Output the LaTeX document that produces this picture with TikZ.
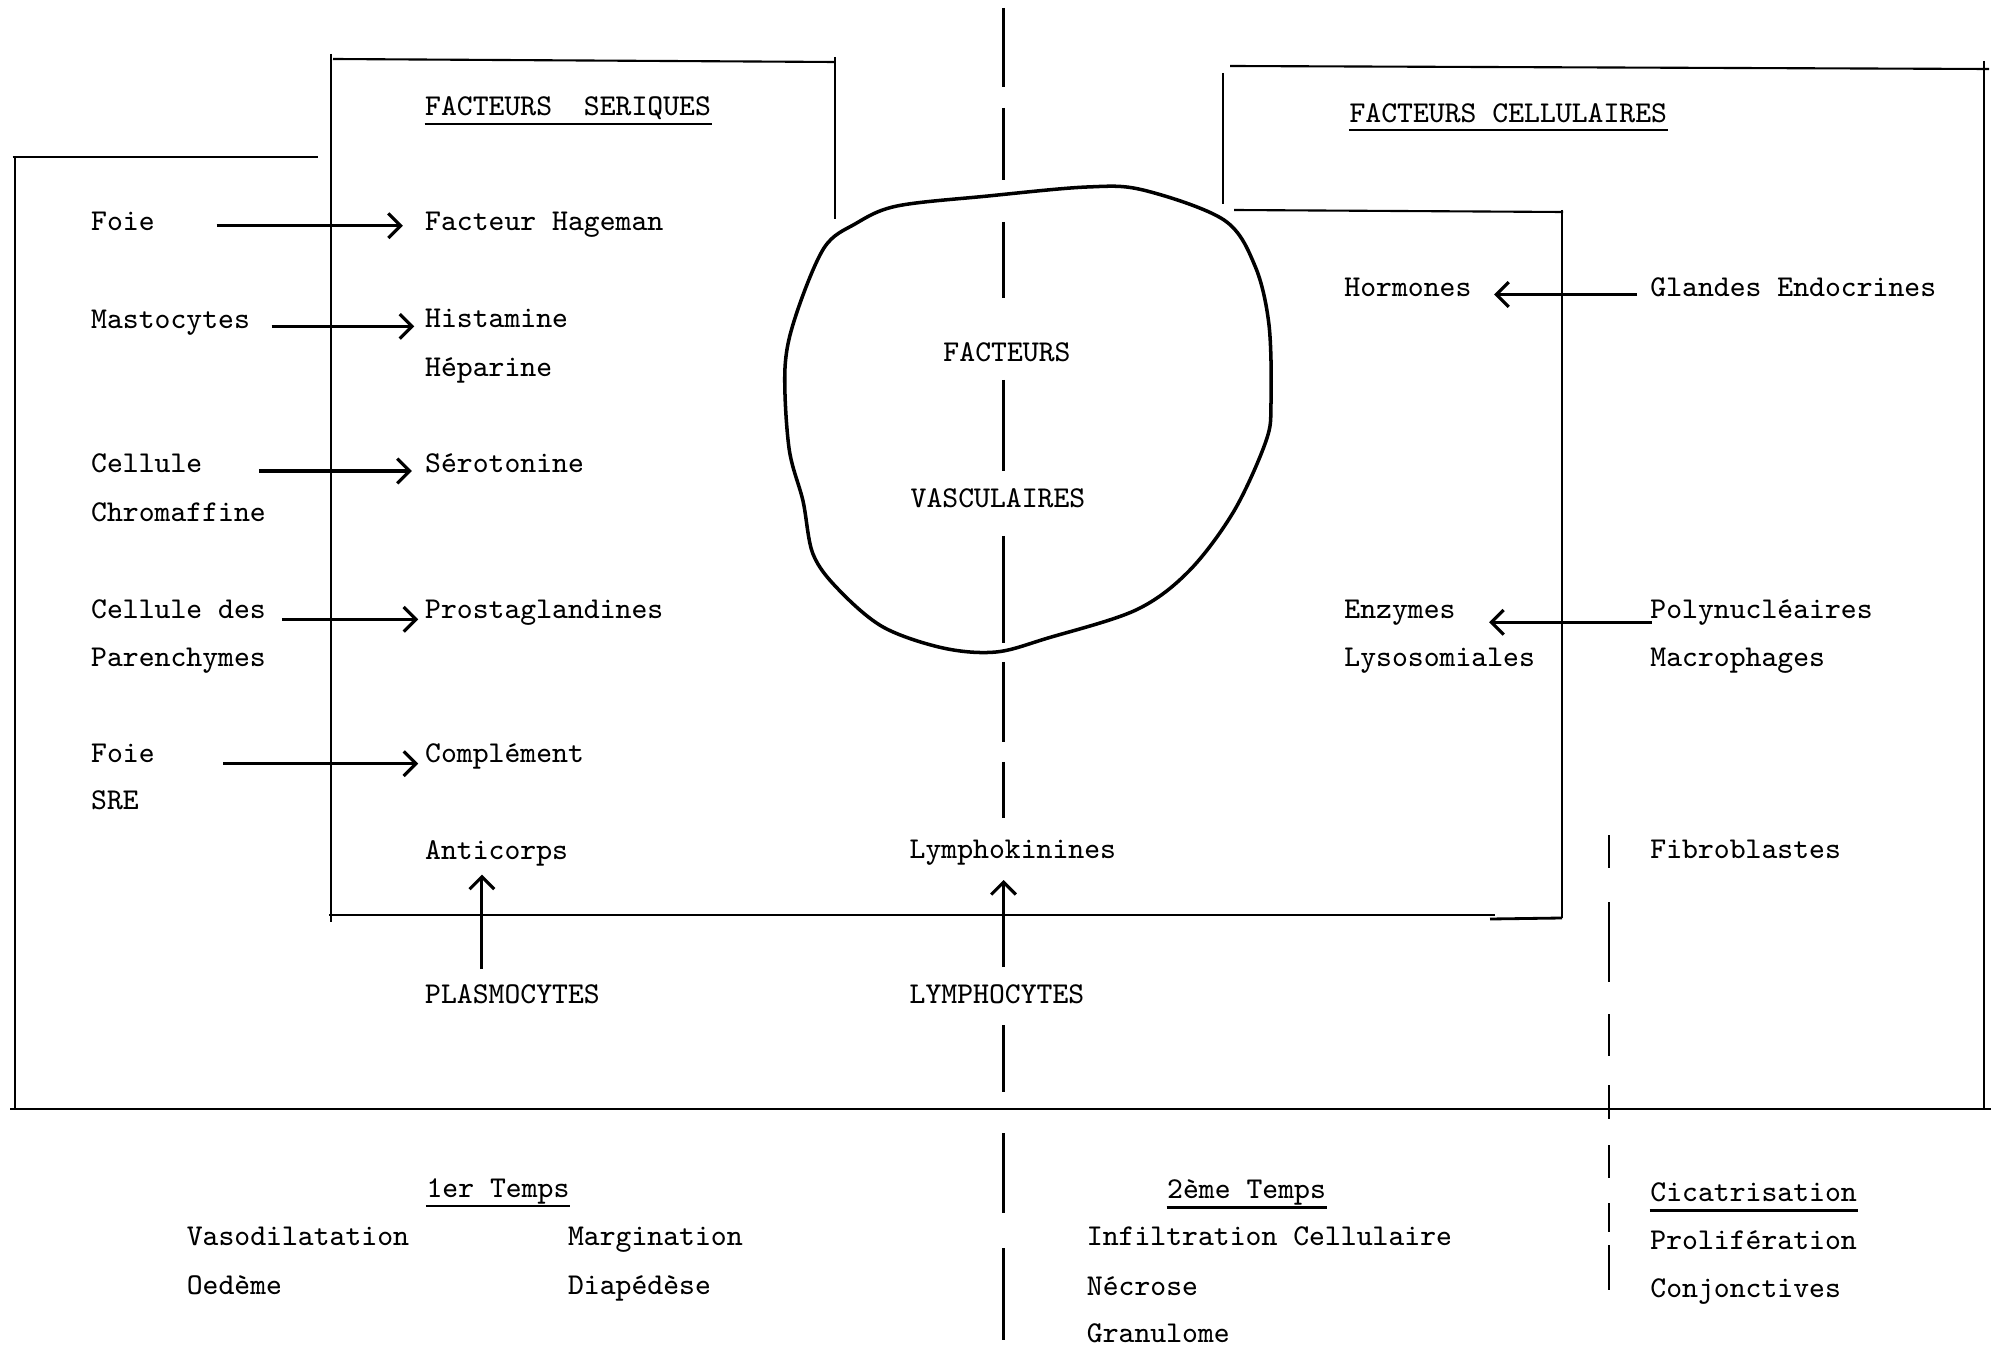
\documentclass[tikz,border=0pt]{standalone}
\usetikzlibrary{arrows.meta}
\begin{document}
\begin{tikzpicture}[x=0.01cm, y=-0.01cm,
  lbl/.style={anchor=base west, inner sep=0pt, font=\fontsize{8.6pt}{10pt}\selectfont\ttfamily},
  clbl/.style={lbl, anchor=base},
  frame/.style={line width=0.6pt},
  heavy/.style={line width=0.8pt},
  dashseg/.style={line width=0.8pt},
  arr/.style={line width=0.9pt, -{Straight Barb[length=3.5pt, width=7pt]}},
  uline/.style={line width=0.6pt},
  blob/.style={line width=1pt}]
\useasboundingbox (0,0) rectangle (1999,1349);

% ---------- frames ----------
% left outer box
\draw[frame] (12.7,156.8) -- (317.5,156.8);
\draw[frame] (15.3,156.8) -- (15.3,1109);
% serum factors box
\draw[frame] (333,59) -- (835,62);
\draw[frame] (331,54) -- (331,922);
\draw[frame] (835,57) -- (835,219);
\draw[heavy] (329,915) -- (1495,915);
\draw[heavy] (1490,919) -- (1562,918);
\draw[frame] (1562,210) -- (1562,918);
% cellular factors boxes
\draw[frame] (1230,66) -- (1989,69);
\draw[frame] (1222.6,73) -- (1222.6,204);
\draw[frame] (1234,210) -- (1563,212);
\draw[frame] (1984,61) -- (1984,1109);
% baseline
\draw[heavy] (10,1109) -- (1991,1109);

% ---------- vascular factors outline ----------
\draw[blob] plot[smooth cycle, tension=0.55] coordinates {
  (988,196) (1087,187) (1143,190) (1224,220) (1255,266) (1269,325)
  (1271,403) (1266,441) (1234,511) (1189,571) (1136,610) (1048,638)
  (996,652) (943,648) (883,627) (838,589) (813,554) (803,501)
  (789,448) (785,368) (796,315) (824,248) (855,224) (897,206)};

% ---------- dashed dividers ----------
\foreach \a/\b in {8/87, 108/180, 222/298, 380/471, 536/643, 662/742,
                   762/818, 1025/1092, 1133/1213, 1248/1340}
  \draw[dashseg] (1003.5,\a) -- (1003.5,\b);
\foreach \a/\b in {835/868, 902/982, 1014/1056, 1085/1119, 1145/1178,
                   1203/1232, 1245/1290}
  \draw[dashseg] (1609,\a) -- (1609,\b);

% ---------- titles ----------
\node[lbl] (tser) at (424.5,116) {FACTEURS\ \ SERIQUES};
\node[lbl] (tcel) at (1348.8,122.4) {FACTEURS CELLULAIRES};
\draw[uline] ([yshift=-2.2pt]tser.base west) -- ([yshift=-2.2pt]tser.base east);
\draw[uline] ([yshift=-2.2pt]tcel.base west) -- ([yshift=-2.2pt]tcel.base east);

\node[clbl] (fvas1) at (1007,362) {FACTEURS};
\node[clbl] (fvas2) at (998,507.4) {VASCULAIRES};

% ---------- sources (left column) ----------
\node[lbl] (foie1)  at (90.5,230.8) {Foie};
\node[lbl] (masto)  at (90.5,328.9) {Mastocytes};
\node[lbl] (cell)   at (90.5,473)   {Cellule};
\node[lbl] (chrom)  at (90.5,521.4) {Chromaffine};
\node[lbl] (celld)  at (90.5,618.3) {Cellule des};
\node[lbl] (paren)  at (90.5,666.8) {Parenchymes};
\node[lbl] (foie2)  at (90.5,762.4) {Foie};
\node[lbl] (sre)    at (90.5,809.6) {SRE};

% ---------- serum factors ----------
\node[lbl] (hage)   at (424.5,230.8) {Facteur Hageman};
\node[lbl] (hista)  at (424.5,327.6) {Histamine};
\node[lbl] (hepa)   at (424.5,376.1) {Héparine};
\node[lbl] (sero)   at (424.5,473)   {Sérotonine};
\node[lbl] (prosta) at (424.5,618.3) {Prostaglandines};
\node[lbl] (compl)  at (424.5,762.4) {Complément};
\node[lbl] (antic)  at (424.5,859.3) {Anticorps};
\node[lbl] (plasmo) at (424.5,1003.4) {PLASMOCYTES};
\node[lbl] (lymk)   at (909,858)    {Lymphokinines};
\node[lbl] (lymc)   at (909,1003.4) {LYMPHOCYTES};

% ---------- cellular factors ----------
\node[lbl] (horm)   at (1343.7,297)   {Hormones};
\node[lbl] (gland)  at (1649.7,297)   {Glandes Endocrines};
\node[lbl] (enzy)   at (1343.7,618.3) {Enzymes};
\node[lbl] (lyso)   at (1343.7,666.8) {Lysosomiales};
\node[lbl] (poly)   at (1649.7,618.3) {Polynucléaires};
\node[lbl] (macro)  at (1649.7,666.8) {Macrophages};
\node[lbl] (fibro)  at (1649.7,858)   {Fibroblastes};

% ---------- arrows ----------
\draw[arr] ([shift={(126.2,-5.1)}]foie1.base west) -- ([shift={(-21.6,-5.1)}]hage.base west);
\draw[arr] ([shift={(181.1,-2.5)}]masto.base west) -- ([shift={(-10.2,-1.2)}]hista.base west);
\draw[arr] ([shift={(168.3,-2)}]cell.base west)    -- ([shift={(-12.7,-2)}]sero.base west);
\draw[arr] ([shift={(191.3,1)}]celld.base west)    -- ([shift={(-6.3,1)}]prosta.base west);
\draw[arr] ([shift={(132.6,1.3)}]foie2.base west)  -- ([shift={(-6.3,1.3)}]compl.base west);
\draw[arr] ([shift={(57.4,-34.4)}]plasmo.base west) -- ([shift={(57.4,15.3)}]antic.base west);
\draw[arr] ([shift={(94.5,-36.4)}]lymc.base west)  -- ([shift={(94.5,22)}]lymk.base west);
\draw[arr] ([shift={(-12.7,-2.5)}]gland.base west) -- ([shift={(150.5,-2.5)}]horm.base west);
\draw[arr] ([shift={(2,4)}]poly.base west)         -- ([shift={(145.4,4)}]enzy.base west);

% ---------- phases ----------
\node[lbl] (t1)    at (425.8,1197.1) {1er Temps};
\node[lbl] (vaso)  at (186.1,1245.6) {Vasodilatation};
\node[lbl] (oede)  at (186.1,1294)   {Oedème};
\node[lbl] (marg)  at (567.3,1245.6) {Margination};
\node[lbl] (diap)  at (567.3,1294)   {Diapédèse};
\node[lbl] (t2)    at (1166.5,1198.4) {2ème Temps};
\node[lbl] (infil) at (1086.2,1245.6) {Infiltration Cellulaire};
\node[lbl] (necr)  at (1086.2,1295.3) {Nécrose};
\node[lbl] (granu) at (1086.2,1342.5) {Granulome};
\node[lbl] (cica)  at (1649.7,1201)   {Cicatrisation};
\node[lbl] (proli) at (1649.7,1249.4) {Prolifération};
\node[lbl] (conj)  at (1649.7,1297.8) {Conjonctives};
\draw[uline] ([yshift=-2.6pt]t1.base west) -- ([yshift=-2.6pt]t1.base east);
\draw[uline] ([yshift=-2.6pt]t2.base west) -- ([yshift=-2.6pt]t2.base east);
\draw[uline, line width=0.9pt] ([yshift=-2.6pt]cica.base west) -- ([yshift=-2.6pt]cica.base east);
\end{tikzpicture}
\end{document}
